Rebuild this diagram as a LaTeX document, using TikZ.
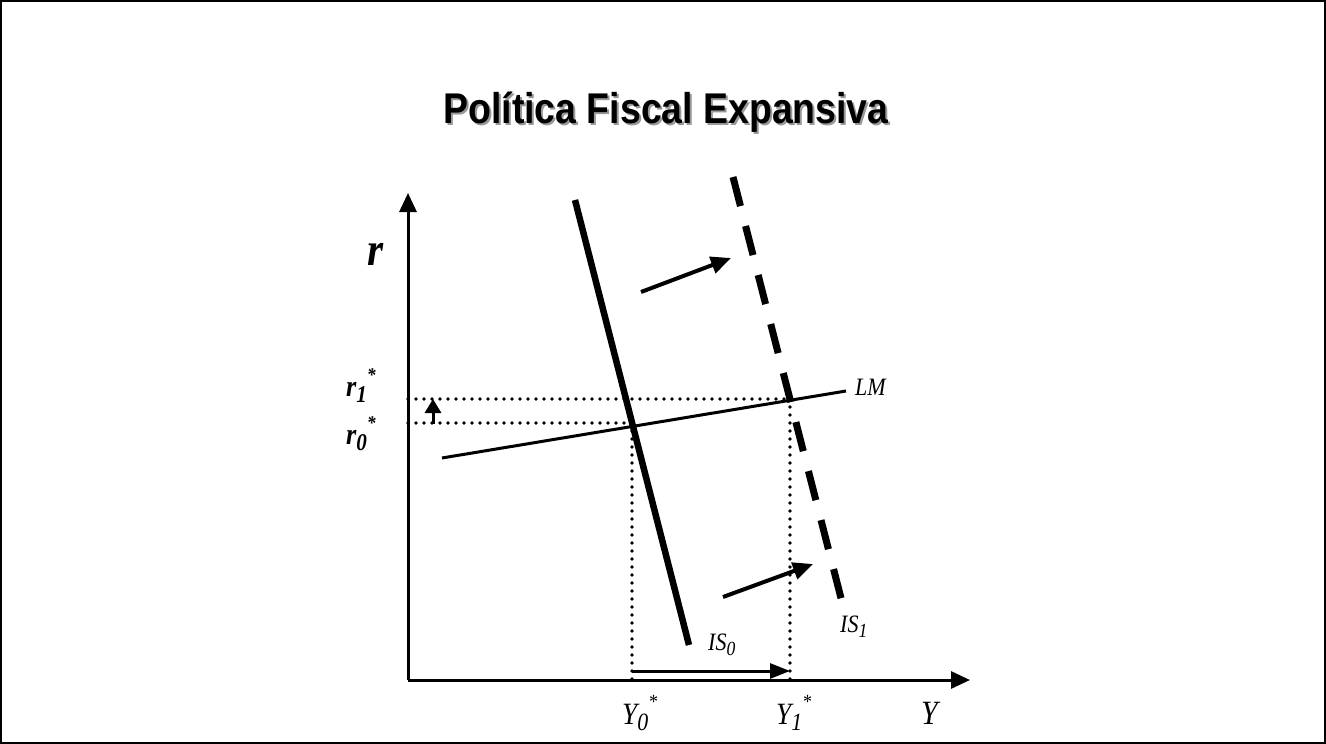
\documentclass[tikz,border=0pt]{standalone}
\usepackage{fontspec}
\setmainfont{Liberation Serif}
\newfontfamily\titlefont{Liberation Sans}
\usetikzlibrary{arrows.meta}
\newcommand{\lowsub}[1]{\raisebox{-0.2em}{\scalebox{0.8}{#1}}}
\newcommand{\highsup}[1]{\raisebox{0.5em}{\scalebox{0.65}{#1}}}
\newcommand{\nar}[1]{\scalebox{0.88}[1]{#1}}
\begin{document}
\begin{tikzpicture}[x=1pt,y=-1pt,
  axis/.style={line width=3pt,-{Triangle[length=19pt,width=17pt]}},
  shiftarrow/.style={line width=4pt,-{Triangle[length=20pt,width=17pt]}},
  smallarrow/.style={line width=3pt,-{Triangle[length=14pt,width=16pt]}},
  guide/.style={line width=3.6pt,line cap=round,dash pattern=on 0pt off 8pt},
  curve/.style={line width=3pt},
  iscurve/.style={line width=6.5pt},
  isdash/.style={line width=7pt,dash pattern=on 30pt off 20.6pt},
  lbl/.style={inner sep=0pt,anchor=base west,font=\fontsize{25}{27}\selectfont\itshape},
  rlbl/.style={inner sep=0pt,anchor=base west,font=\fontsize{30}{32}\selectfont\bfseries\itshape},
  ylbl/.style={inner sep=0pt,anchor=base west,font=\fontsize{31}{34}\selectfont\itshape}]
\useasboundingbox (0,0) rectangle (1326,744);
\draw[line width=2pt] (1,1) rectangle (1325,743);
% title
\node[inner sep=0pt,anchor=base,text=black!40,font=\fontsize{43}{46}\selectfont\titlefont\bfseries] (titleshadow) at (668,125.5) {\scalebox{0.87}[1]{Política Fiscal Expansiva}};
\node[inner sep=0pt,anchor=base,font=\fontsize{43}{46}\selectfont\titlefont\bfseries] (title) at (666,123) {\scalebox{0.87}[1]{Política Fiscal Expansiva}};
% coordinates
\coordinate (O) at (408,680);
\coordinate (ytop) at (408,193);
\coordinate (xend) at (970,680);
\coordinate (E0) at (632,423);
\coordinate (E1) at (790,399);
\coordinate (r0) at (408,423);
\coordinate (r1) at (408,399);
\coordinate (Y0) at (632,680);
\coordinate (Y1) at (790,680);
\coordinate (LMa) at (442,458);
\coordinate (LMb) at (846,391);
\coordinate (IS0a) at (575,200);
\coordinate (IS0b) at (689,645);
\coordinate (IS1a) at (733,177);
\coordinate (IS1b) at (842,602);
% guides
\draw[guide] (r1) -- (E1);
\draw[guide] (r0) -- (E0);
\draw[guide] (E0) -- (Y0);
\draw[guide] (E1) -- (Y1);
% axes
\draw[axis] (O) -- (ytop);
\draw[axis] (O) -- (xend);
% curves
\draw[curve] (LMa) -- (LMb);
\draw[iscurve] (IS0a) -- (IS0b);
\draw[isdash] (IS1a) -- (IS1b);
% arrows
\coordinate (ra) at (433,424);
\coordinate (rb) at (433,399);
\draw[smallarrow] (ra) -- (rb);
\coordinate (ya) at (632,671);
\coordinate (yb) at (790,671);
\draw[line width=3pt,-{Triangle[length=20pt,width=15pt]}] (ya) -- (yb);
\coordinate (ua) at (641,292);
\coordinate (ub) at (731,258);
\draw[shiftarrow] (ua) -- (ub);
\coordinate (la) at (723,597);
\coordinate (lb) at (813,564);
\draw[shiftarrow] (la) -- (lb);
% labels
\node[inner sep=0pt,anchor=base west,font=\fontsize{47}{50}\selectfont\bfseries\itshape] (rlabel) at (367,265) {\nar{r}};
\node[rlbl] (r1lab) at (346,396) {\nar{r\lowsub{1}\highsup{*}}};
\node[rlbl] (r0lab) at (346,444) {\nar{r\lowsub{0}\highsup{*}}};
\node[lbl] (LMlab) at (855,395) {\nar{LM}};
\node[lbl] (IS0lab) at (708,650) {\nar{IS\lowsub{0}}};
\node[lbl] (IS1lab) at (840,632) {\nar{IS\lowsub{1}}};
\node[ylbl] (Y0lab) at (622,724) {\nar{Y\lowsub{0}\highsup{*}}};
\node[ylbl] (Y1lab) at (776,724) {\nar{Y\lowsub{1}\highsup{*}}};
\node[inner sep=0pt,anchor=base west,font=\fontsize{34}{36}\selectfont\itshape] (Ylab) at (921,724) {\nar{Y}};
\end{tikzpicture}
\end{document}
